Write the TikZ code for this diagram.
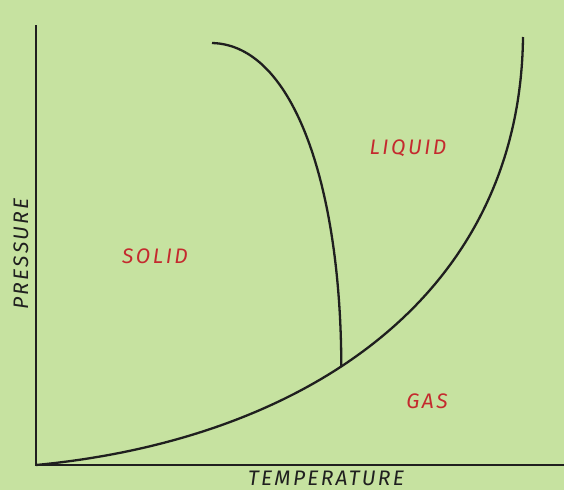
\documentclass[tikz,border=0pt]{standalone}
\usepackage{fontspec}
\setmainfont{Fira Sans}
\usetikzlibrary{positioning}
\definecolor{bgreen}{HTML}{C6E2A0}
\definecolor{phred}{HTML}{C42A2E}
\definecolor{ink}{HTML}{1F1F1F}

\begin{document}
\begin{tikzpicture}[x=1pt,y=-1pt,
phase/.style={font=\fontsize{21}{21}\selectfont\itshape\addfontfeature{LetterSpace=12},text=phred},
axlabel/.style={font=\fontsize{21}{21}\selectfont\itshape\addfontfeature{LetterSpace=11},text=ink,inner sep=1pt},
curve/.style={draw=ink,line width=2.3pt},
axis/.style={draw=ink,line width=2.6pt}]
\fill[bgreen] (0,0) rectangle (564,490);
\useasboundingbox (0,0) rectangle (564,490);
\coordinate (origin) at (36,465);
\coordinate (ptop) at (36,25);
\coordinate (tend) at (564,465);
\coordinate (crit) at (523,37);
\coordinate (melt) at (212,43);
\draw[curve] (origin) .. controls (300,440) and (520,300) .. coordinate[pos=0.435] (triple) (crit);
\draw[curve] (melt) .. controls (295,45) and (341,190) .. (triple);
\draw[axis] (ptop) |- (tend);
\node[phase] (solid) at (155,256) {SOLID};
\node[phase] (liquid) at (408,148) {LIQUID};
\node[phase] (gas) at (427,401) {GAS};
\node[axlabel,rotate=90] (pres) at (21,254) {PRESSURE};
\node[axlabel] (temp) at (326,478) {TEMPERATURE};
\end{tikzpicture}
\end{document}
